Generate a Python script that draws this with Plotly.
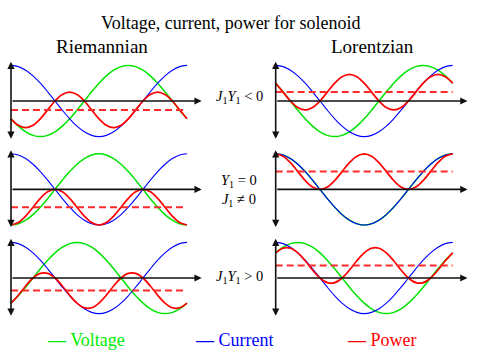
import plotly.graph_objects as go

# ---------------- data ----------------
t_deg = [0, 15, 30, 45, 60, 75, 90, 105, 120, 135, 150, 165, 180,
         195, 210, 225, 240, 255, 270, 285, 300, 315, 330, 345, 360]

current = [1, .966, .866, .707, .5, .259, 0, -.259, -.5, -.707, -.866, -.966, -1,
           -.966, -.866, -.707, -.5, -.259, 0, .259, .5, .707, .866, .966, 1]

# Riemannian, J1Y1 < 0
volt_riem_neg = [-.5, -.707, -.866, -.966, -1, -.966, -.866, -.707, -.5, -.259, 0, .259, .5,
                 .707, .866, .966, 1, .966, .866, .707, .5, .259, 0, -.259, -.5]
power_riem_neg = [-.5, -.683, -.75, -.683, -.5, -.25, 0, .183, .25, .183, 0, -.25, -.5,
                  -.683, -.75, -.683, -.5, -.25, 0, .183, .25, .183, 0, -.25, -.5]
mean_riem_neg = -0.25

# Lorentzian, J1Y1 < 0
volt_lor_neg = [.5, .259, 0, -.259, -.5, -.707, -.866, -.966, -1, -.966, -.866, -.707, -.5,
                -.259, 0, .259, .5, .707, .866, .966, 1, .966, .866, .707, .5]
power_lor_neg = [.5, .25, 0, -.183, -.25, -.183, 0, .25, .5, .683, .75, .683, .5,
                 .25, 0, -.183, -.25, -.183, 0, .25, .5, .683, .75, .683, .5]
mean_lor_neg = 0.25

# Riemannian, Y1 = 0, J1 != 0
volt_riem_zero = [-1, -.966, -.866, -.707, -.5, -.259, 0, .259, .5, .707, .866, .966, 1,
                  .966, .866, .707, .5, .259, 0, -.259, -.5, -.707, -.866, -.966, -1]
power_riem_zero = [-1, -.933, -.75, -.5, -.25, -.067, 0, -.067, -.25, -.5, -.75, -.933, -1,
                   -.933, -.75, -.5, -.25, -.067, 0, -.067, -.25, -.5, -.75, -.933, -1]
mean_riem_zero = -0.5

# Lorentzian, Y1 = 0, J1 != 0
volt_lor_zero = [1, .966, .866, .707, .5, .259, 0, -.259, -.5, -.707, -.866, -.966, -1,
                 -.966, -.866, -.707, -.5, -.259, 0, .259, .5, .707, .866, .966, 1]
power_lor_zero = [1, .933, .75, .5, .25, .067, 0, .067, .25, .5, .75, .933, 1,
                  .933, .75, .5, .25, .067, 0, .067, .25, .5, .75, .933, 1]
mean_lor_zero = 0.5

# Riemannian, J1Y1 > 0
volt_riem_pos = [-.707, -.5, -.259, 0, .259, .5, .707, .866, .966, 1, .966, .866, .707,
                 .5, .259, 0, -.259, -.5, -.707, -.866, -.966, -1, -.966, -.866, -.707]
power_riem_pos = [-.707, -.483, -.224, 0, .129, .129, 0, -.224, -.483, -.707, -.837, -.837, -.707,
                  -.483, -.224, 0, .129, .129, 0, -.224, -.483, -.707, -.837, -.837, -.707]
mean_riem_pos = -0.354

# Lorentzian, J1Y1 > 0
volt_lor_pos = [.707, .866, .966, 1, .966, .866, .707, .5, .259, 0, -.259, -.5, -.707,
                -.866, -.966, -1, -.966, -.866, -.707, -.5, -.259, 0, .259, .5, .707]
power_lor_pos = [.707, .837, .837, .707, .483, .224, 0, -.129, -.129, 0, .224, .483, .707,
                 .837, .837, .707, .483, .224, 0, -.129, -.129, 0, .224, .483, .707]
mean_lor_pos = 0.354

title_text = "Voltage, current, power for solenoid"
column_titles = ["Riemannian", "Lorentzian"]
row_labels = ["<i>J</i><sub>1</sub><i>Y</i><sub>1</sub> &lt; 0",
              "<i>Y</i><sub>1</sub> = 0<br><i>J</i><sub>1</sub> ≠ 0",
              "<i>J</i><sub>1</sub><i>Y</i><sub>1</sub> &gt; 0"]
legend_names = ["Voltage", "Current", "Power"]

# ---------------- layout / style ----------------
W, H = 480, 360
GREEN, BLUE, RED = "#00e400", "#0000ff", "#ff0000"
SERIF = "Liberation Serif, Times New Roman, serif"

panels = [
    (volt_riem_neg, power_riem_neg, mean_riem_neg),
    (volt_lor_neg, power_lor_neg, mean_lor_neg),
    (volt_riem_zero, power_riem_zero, mean_riem_zero),
    (volt_lor_zero, power_lor_zero, mean_lor_zero),
    (volt_riem_pos, power_riem_pos, mean_riem_pos),
    (volt_lor_pos, power_lor_pos, mean_lor_pos),
]

col_px = [(11.0, 187.0), (275.7, 452.7)]   # pixel x of t=0 and t=360
row_px = [101.0, 189.4, 278.0]             # pixel y of the zero line
AMP = 35.6                                 # pixels per unit
XR = (-20, 400)
YR = (-1.2, 1.2)

fig = go.Figure()
layout_axes = {}
annotations = []

for i, (volt, power, mean) in enumerate(panels):
    r, c = divmod(i, 2)
    n = i + 1
    xa = "x" if n == 1 else f"x{n}"
    ya = "y" if n == 1 else f"y{n}"
    x0, x1 = col_px[c]
    s = (x1 - x0) / 360.0
    xdom = [(x0 + XR[0] * s) / W, (x0 + XR[1] * s) / W]
    yc = row_px[r]
    ydom = [1 - (yc - YR[0] * AMP) / H, 1 - (yc - YR[1] * AMP) / H]
    layout_axes["xaxis" if n == 1 else f"xaxis{n}"] = dict(
        domain=xdom, range=list(XR), visible=False, fixedrange=True, anchor=ya)
    layout_axes["yaxis" if n == 1 else f"yaxis{n}"] = dict(
        domain=ydom, range=list(YR), visible=False, fixedrange=True, anchor=xa)

    fig.add_trace(go.Scatter(x=t_deg, y=volt, mode="lines", xaxis=xa, yaxis=ya,
                             line=dict(color=GREEN, width=1.5, shape="spline"),
                             showlegend=False, hoverinfo="skip"))
    fig.add_trace(go.Scatter(x=t_deg, y=current, mode="lines", xaxis=xa, yaxis=ya,
                             line=dict(color=BLUE, width=1.1, shape="spline"),
                             showlegend=False, hoverinfo="skip"))
    fig.add_trace(go.Scatter(x=t_deg, y=power, mode="lines", xaxis=xa, yaxis=ya,
                             line=dict(color=RED, width=1.7, shape="spline"),
                             showlegend=False, hoverinfo="skip"))
    fig.add_trace(go.Scatter(x=[t_deg[0], t_deg[-1]], y=[mean, mean], mode="lines",
                             xaxis=xa, yaxis=ya,
                             line=dict(color="#ff2a2a", width=2, dash="7px,4px"),
                             showlegend=False, hoverinfo="skip"))

    # axes drawn as arrows in data coordinates
    annotations.append(dict(x=390, y=0, ax=0, ay=0, xref=xa, yref=ya, axref=xa, ayref=ya,
                            text="", showarrow=True, arrowhead=2, arrowsize=0.9,
                            arrowwidth=1.6, arrowcolor="#111111", standoff=0))
    annotations.append(dict(x=0, y=1.1, ax=0, ay=-1.1, xref=xa, yref=ya, axref=xa, ayref=ya,
                            text="", showarrow=True, arrowhead=2, startarrowhead=2,
                            arrowside="end+start", arrowsize=0.9, startarrowsize=0.9,
                            arrowwidth=1.6, arrowcolor="#111111", standoff=0, startstandoff=0))

# texts
annotations.append(dict(x=231 / W, y=1 - 23 / H, xref="paper", yref="paper",
                        text=title_text, showarrow=False, xanchor="center", yanchor="middle",
                        font=dict(family=SERIF, size=18, color="black")))
for c, (txt, cx) in enumerate(zip(column_titles, [102, 372.5])):
    annotations.append(dict(x=cx / W, y=1 - 47 / H, xref="paper", yref="paper",
                            text=txt, showarrow=False, xanchor="center", yanchor="middle",
                            font=dict(family=SERIF, size=19, color="black")))
for txt, cy in zip(row_labels, [97, 190, 277]):
    annotations.append(dict(x=239 / W, y=1 - cy / H, xref="paper", yref="paper",
                            text=txt, showarrow=False, xanchor="center", yanchor="middle",
                            font=dict(family=SERIF, size=14.5, color="black")))
for name, col, lx in zip(legend_names, ["#00ee00", "#0000ff", "#ff0000"], [45, 193, 345]):
    annotations.append(dict(x=lx / W, y=1 - 340 / H, xref="paper", yref="paper",
                            text="<b>—</b> " + name, showarrow=False, xanchor="left",
                            yanchor="middle",
                            font=dict(family=SERIF, size=18, color=col)))

fig.update_layout(width=W, height=H, margin=dict(l=0, r=0, t=0, b=0),
                  paper_bgcolor="white", plot_bgcolor="white",
                  annotations=annotations, **layout_axes)

fig.write_html("out.html", config={"displayModeBar": False},
               post_script="document.body.style.margin='0';document.body.style.padding='0';")
